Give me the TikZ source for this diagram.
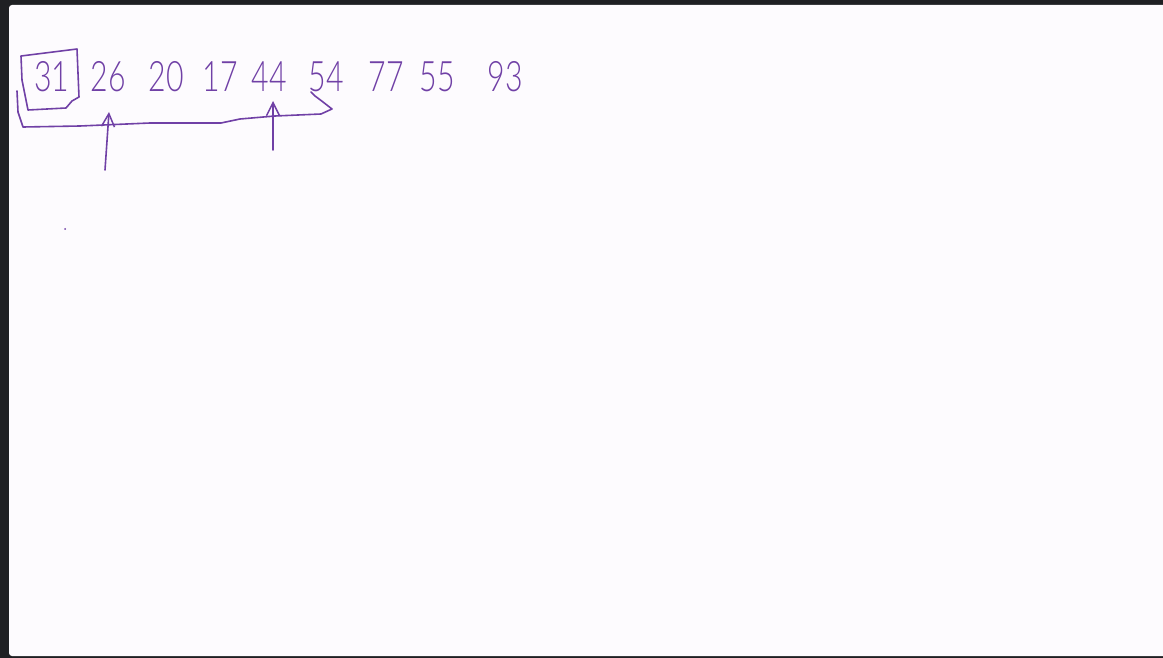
\documentclass[tikz,border=0pt]{standalone}
\usepackage{fontspec}
\usetikzlibrary{arrows.meta}
\newfontfamily\hand[FakeStretch=0.72]{Lato Light}
\definecolor{ink}{RGB}{112,64,166}
\definecolor{frame}{RGB}{31,32,35}
\definecolor{paper}{RGB}{253,251,254}
\tikzset{
  num/.style={inner sep=0pt, text=ink, font=\hand\fontsize{42}{42}\selectfont, anchor=base},
  stroke/.style={draw=ink, line width=1.6pt, line cap=round, line join=round},
  pointer/.style={stroke, -{Straight Barb[length=13pt,width=13pt,line width=1.5pt]}}
}
\begin{document}
\begin{tikzpicture}[x=1pt,y=-1pt]
\useasboundingbox (0,0) rectangle (1163,658);
\fill[frame] (0,0) rectangle (1163,658);
\fill[paper, rounded corners=3pt] (9,5) rectangle (1170,656);
% numbers
\node[num] (n31) at (52,92) {31};
\node[num] (n26) at (108,92) {26};
\node[num] (n20) at (166,92) {20};
\node[num] (n17) at (220,92) {17};
\node[num] (n44) at (269,92) {44};
\node[num] (n54) at (326,92) {54};
\node[num] (n77) at (386,92) {77};
\node[num] (n55) at (437,92) {55};
\node[num] (n93) at (505,92) {93};
% box around 31
\draw[stroke] (21,56) -- (77,49) -- (79,97) -- (72,101) -- (66,108) -- (28,110) -- (22,80) -- cycle;
% bracket under the run
\draw[stroke] (17,91) -- (18,112) -- (23,127) -- (80,126) -- (150,123) -- (221,123) -- (240,119) -- (275,116) -- (321,114) -- (332,109) -- (323,102) -- (315,96) -- (311,92);
% arrows
\coordinate (a1s) at (105,170);
\coordinate (a1t) at (109,112);
\coordinate (a2s) at (273,150);
\coordinate (a2t) at (273,101);
\draw[pointer] (a1s) -- (a1t);
\draw[pointer] (a2s) -- (a2t);
% stray dot
\fill[ink] (65,229) circle (1pt);
\end{tikzpicture}
\end{document}
